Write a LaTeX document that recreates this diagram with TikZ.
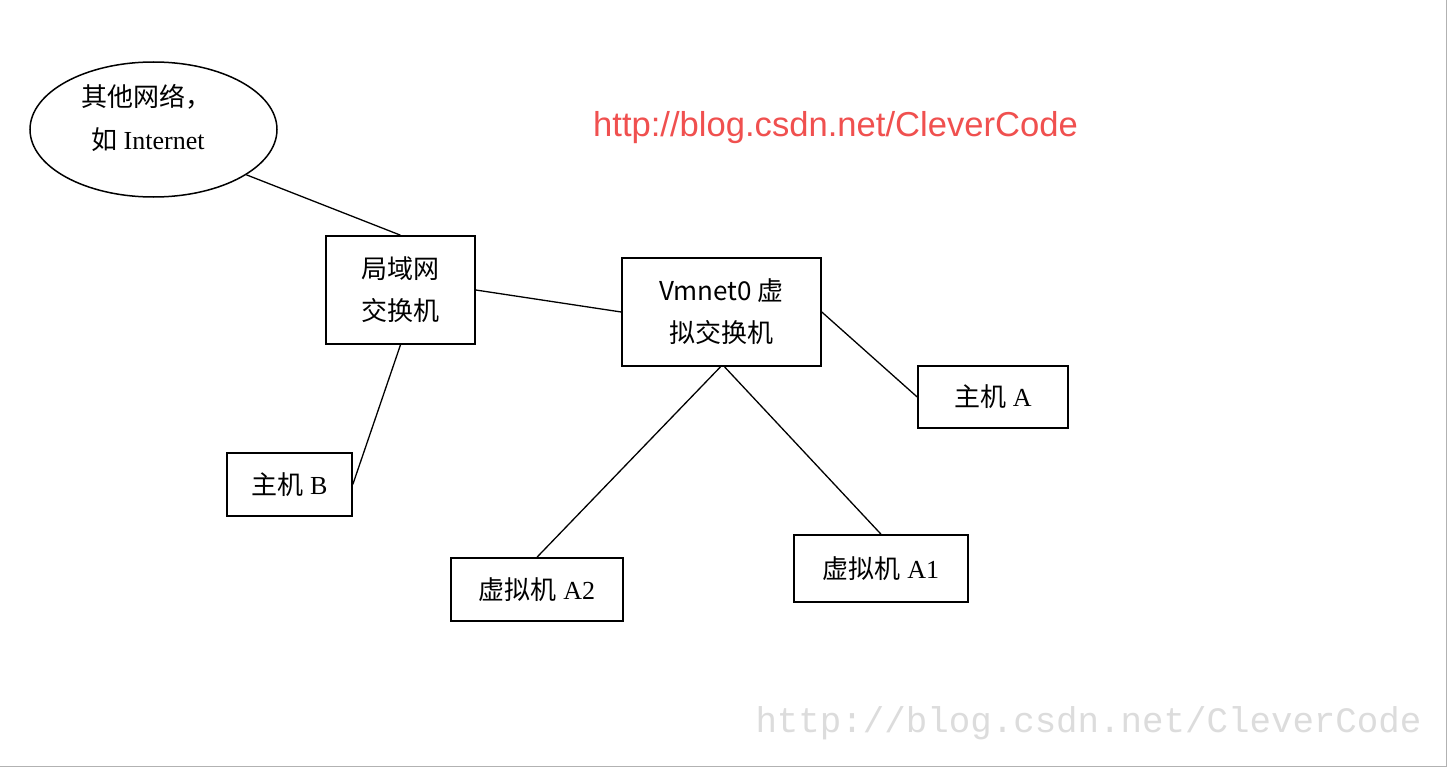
\documentclass[tikz,border=0pt]{standalone}
\usepackage{fontspec}
\setmainfont{Liberation Serif}
\newfontfamily\cjk{Noto Sans CJK SC}
\newfontfamily\urlsans{Liberation Sans}
\newfontfamily\wmono{Liberation Mono}
\usetikzlibrary{shapes.geometric}
\definecolor{urlred}{HTML}{F0504F}
\definecolor{wmgray}{HTML}{DCDCDC}
\tikzset{
  netbox/.style={draw=black, line width=1.6pt, minimum width=#1, inner sep=0pt, align=center,
    font=\fontsize{26}{42}\selectfont},
  conn/.style={draw=black, line width=1.3pt},
  plain/.style={inner sep=0pt, align=left, font=\fontsize{26}{43}\selectfont}
}
\begin{document}
\begin{tikzpicture}[x=1pt,y=-1pt]
\useasboundingbox[fill=white] (0,0) rectangle (1448,768);
\draw[gray!60, line width=1.2pt] (1446.5,0) -- (1446.5,766.5) -- (0,766.5);

% ellipse
\node[ellipse, draw=black, line width=1.5pt, minimum width=247, minimum height=135, inner sep=0pt] (net) at (153.5,129.5) {};
\node[plain, anchor=west] (nettext) at (81,117.5) {{\cjk 其他网络，}\\\hspace*{10pt}{\cjk 如} Internet};

% boxes
\node[netbox=149, minimum height=108] (lan) at (400.5,290) {{\cjk 局域网}\\{\cjk 交换机}};
\node[netbox=199, minimum height=108] (vm) at (721.5,312) {{\cjk Vmnet0 虚}\\{\cjk 拟交换机}};
\node[netbox=150, minimum height=62] (hostA) at (993,397) {{\cjk 主机} A};
\node[netbox=125, minimum height=63] (hostB) at (289.5,484.5) {{\cjk 主机} B};
\node[netbox=172, minimum height=63] (a2) at (537,589.5) {{\cjk 虚拟机} A2};
\node[netbox=174, minimum height=67] (a1) at (881,568.5) {{\cjk 虚拟机} A1};

% connectors
\draw[conn] (net.-26) -- (lan.north);
\draw[conn] (lan.east) -- (vm.west);
\draw[conn] (vm.east) -- (hostA.west);
\draw[conn] (lan.south) -- (hostB.east);
\draw[conn] ([xshift=-1]vm.south) -- (a2.north);
\draw[conn] ([xshift=3]vm.south) -- (a1.north);

% texts
\node[inner sep=0pt, text=urlred, font=\urlsans\fontsize{34.6}{40}\selectfont] (url) at (835.5,128) {http://blog.csdn.net/CleverCode};
\node[inner sep=0pt, text=wmgray, font=\wmono\fontsize{35.8}{40}\selectfont] (wm) at (1088.5,723) {http://blog.csdn.net/CleverCode};
\end{tikzpicture}
\end{document}
